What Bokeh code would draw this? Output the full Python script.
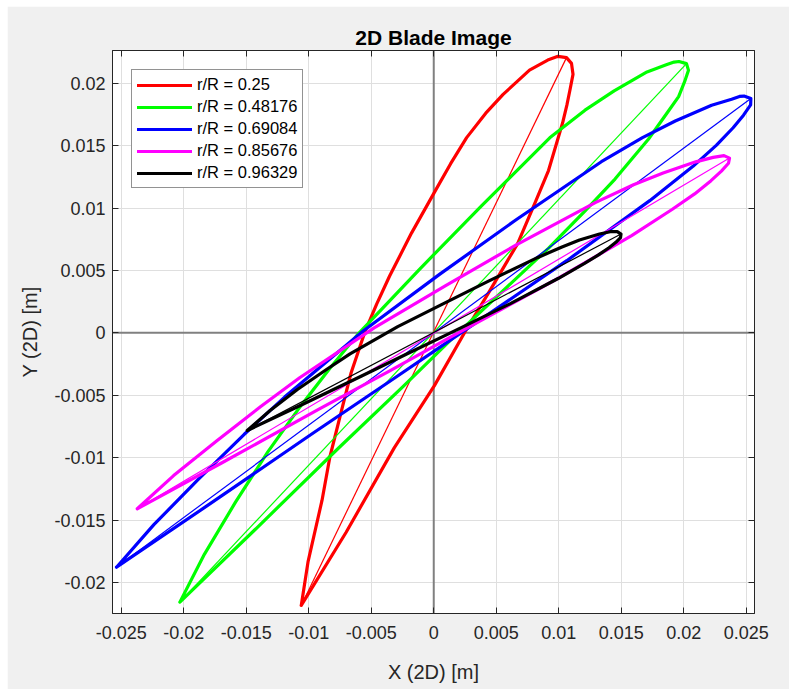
from bokeh.plotting import figure
from bokeh.models import Range1d, FixedTicker, LinearAxis, Span, Legend, LegendItem
from bokeh.embed import file_html
from bokeh.resources import INLINE

# ---------------- data ----------------
labels = ["r/R = 0.25", "r/R = 0.48176", "r/R = 0.69084", "r/R = 0.85676", "r/R = 0.96329"]
colors = ["#ff0000", "#00ff00", "#0000ff", "#ff00ff", "#000000"]

x_ticks = [-0.025, -0.02, -0.015, -0.01, -0.005, 0, 0.005, 0.01, 0.015, 0.02, 0.025]
x_tick_labels = ["-0.025", "-0.02", "-0.015", "-0.01", "-0.005", "0",
                 "0.005", "0.01", "0.015", "0.02", "0.025"]
y_ticks = [-0.02, -0.015, -0.01, -0.005, 0, 0.005, 0.01, 0.015, 0.02]
y_tick_labels = ["-0.02", "-0.015", "-0.01", "-0.005", "0", "0.005", "0.01", "0.015", "0.02"]

# outlines: trailing edge -> upper surface -> leading edge -> lower surface -> trailing edge
red_x = [-0.0106, -0.01005, -0.00894, -0.00831, -0.00734, -0.00661, -0.00551, -0.00456,
         -0.00354, -0.00177, 0.00014, 0.00135, 0.00263, 0.00416, 0.00555, 0.00766, 0.00912,
         0.00994, 0.01062,
         0.01102, 0.01114, 0.0109, 0.01065, 0.0103, 0.00918, 0.00805, 0.00671, 0.00448,
         0.00246, 0.00004, -0.00315, -0.00702, -0.0106]
red_y = [-0.02184, -0.01831, -0.01343, -0.00995, -0.00608, -0.0032, 0.00007, 0.00232,
         0.00453, 0.00801, 0.01141, 0.01355, 0.01564, 0.0176, 0.0191, 0.02105, 0.02185,
         0.02215, 0.02205,
         0.02159, 0.02071, 0.01948, 0.01824, 0.01679, 0.013, 0.01029, 0.00715, 0.00336,
         0.00001, -0.00425, -0.0092, -0.016, -0.02184]

green_x = [-0.02031, -0.01834, -0.01586, -0.01326, -0.01083, -0.00829, -0.00602, -0.00114,
           0.00382, 0.00928, 0.0121, 0.01443, 0.01706, 0.0186, 0.01923, 0.01962, 0.02022,
           0.02038, 0.02006, 0.01959, 0.01855, 0.01717, 0.0145, 0.01207, 0.00917, 0.00182,
           -0.00242, -0.00757, -0.01435, -0.02031]
green_y = [-0.02158, -0.01773, -0.01357, -0.00952, -0.00611, -0.00282, -0.00006, 0.00509,
           0.01018, 0.01562, 0.01784, 0.01938, 0.0209, 0.02147, 0.02169, 0.02174, 0.02157,
           0.02103, 0.0201, 0.01892, 0.01745, 0.01551, 0.01232, 0.00973, 0.00677, -0.00013,
           -0.00428, -0.00919, -0.01582, -0.02158]

blue_x = [-0.02538, -0.02239, -0.01882, -0.01518, -0.01191, -0.00562, 0.00046, 0.00662,
          0.01341, 0.0167, 0.01932, 0.02223, 0.02383, 0.02446, 0.02482, 0.02537,
          0.02535, 0.02478, 0.02395, 0.02262, 0.02074, 0.01728, 0.01064, 0.00177,
          -0.00345, -0.00973, -0.01806, -0.02538]
blue_y = [-0.01878, -0.01537, -0.01173, -0.00815, -0.00513, 0.00017, 0.00468, 0.00908,
          0.01371, 0.01564, 0.01697, 0.01824, 0.01872, 0.01894, 0.01897, 0.01877,
          0.01826, 0.01744, 0.01643, 0.01504, 0.01334, 0.01059, 0.00578, -0.00029,
          -0.00384, -0.00809, -0.01381, -0.01878]

magenta_x = [-0.02372, -0.02081, -0.01735, -0.01384, -0.01073, -0.00477, 0.00092, 0.00664,
             0.01296, 0.01598, 0.01835, 0.02096, 0.02235, 0.02322, 0.02366,
             0.02358, 0.02301, 0.02218, 0.02087, 0.01906, 0.01583, 0.00963, 0.00141,
             -0.00341, -0.00922, -0.01694, -0.02372]
magenta_y = [-0.0141, -0.01144, -0.00864, -0.00591, -0.0036, 0.00039, 0.00376, 0.00707,
             0.01045, 0.01186, 0.01281, 0.0137, 0.01406, 0.0142, 0.014,
             0.01359, 0.01296, 0.01219, 0.01113, 0.00988, 0.00778, 0.00419, -0.00031,
             -0.00299, -0.00614, -0.01041, -0.0141]

black_x = [-0.01492, -0.01309, -0.01091, -0.00867, -0.0067, -0.00288, 0.00074, 0.00438,
           0.00833, 0.01021, 0.01166, 0.01326, 0.01412, 0.01468, 0.01498,
           0.01494, 0.01457, 0.01402, 0.01318, 0.01203, 0.00998, 0.00609, 0.00093,
           -0.00212, -0.00577, -0.01064, -0.01492]
black_y = [-0.00783, -0.00622, -0.00454, -0.003, -0.00169, 0.0005, 0.00232, 0.00414,
           0.00604, 0.00685, 0.00743, 0.00792, 0.0081, 0.00811, 0.00791,
           0.00762, 0.00725, 0.00682, 0.00624, 0.00554, 0.00437, 0.00232, -0.00021,
           -0.00168, -0.00346, -0.0058, -0.00783]

# chord lines (trailing edge -> leading edge)
chord_x0 = [-0.0106, -0.02031, -0.02538, -0.02372, -0.01492]
chord_y0 = [-0.02184, -0.02158, -0.01878, -0.0141, -0.00783]
chord_x1 = [0.01062, 0.02022, 0.02537, 0.02366, 0.01498]
chord_y1 = [0.02205, 0.02157, 0.01877, 0.014, 0.00791]

outlines_x = [red_x, green_x, blue_x, magenta_x, black_x]
outlines_y = [red_y, green_y, blue_y, magenta_y, black_y]

# ---------------- figure ----------------
FONT = "Liberation Sans"
AX = "#262626"

p = figure(width=782, height=683, output_backend="svg", toolbar_location=None,
           x_range=Range1d(-0.0257, 0.02566), y_range=Range1d(-0.02249, 0.02262),
           min_border_left=105, min_border_right=35, min_border_top=44, min_border_bottom=76,
           border_fill_color="#f0f0f0", background_fill_color="white",
           outline_line_color=AX, outline_line_width=1,
           x_axis_label="X (2D) [m]", y_axis_label="Y (2D) [m]", title="2D Blade Image")
p.margin = (6, 0, 0, 7)

p.title.text_font = FONT
p.title.text_font_size = "21px"
p.title.text_font_style = "bold"
p.title.text_color = "black"
p.title.align = "center"
p.title.standoff = 4

xt = FixedTicker(ticks=x_ticks)
yt = FixedTicker(ticks=y_ticks)

xa = p.xaxis[0]
ya = p.yaxis[0]
xa.ticker = xt
ya.ticker = yt
xa.major_label_overrides = {v: s for v, s in zip(x_ticks, x_tick_labels)}
ya.major_label_overrides = {v: s for v, s in zip(y_ticks, y_tick_labels)}
p.xgrid.ticker = xt
p.ygrid.ticker = yt

for ax in (xa, ya):
    ax.major_tick_in = 6
    ax.major_tick_out = 0
    ax.minor_tick_line_color = None
    ax.axis_line_color = AX
    ax.major_tick_line_color = AX
    ax.major_label_text_font = FONT
    ax.major_label_text_font_size = "18px"
    ax.major_label_text_color = AX
    ax.axis_label_text_font = FONT
    ax.axis_label_text_font_size = "20px"
    ax.axis_label_text_font_style = "normal"
    ax.axis_label_text_color = AX
xa.major_label_standoff = 12
xa.axis_label_standoff = 19
ya.major_label_standoff = 7
ya.axis_label_standoff = 10

for loc, tk, vals in (("above", xt, x_ticks), ("right", yt, y_ticks)):
    extra = LinearAxis(ticker=tk, major_tick_in=6, major_tick_out=0,
                       minor_tick_line_color=None, axis_line_color=AX,
                       major_tick_line_color=AX, major_label_standoff=0,
                       major_label_text_font_size="1px",
                       major_label_overrides={v: "" for v in vals})
    p.add_layout(extra, loc)

p.xgrid.grid_line_color = "#dfdfdf"
p.ygrid.grid_line_color = "#dfdfdf"
p.xgrid.grid_line_width = 1
p.ygrid.grid_line_width = 1

p.add_layout(Span(location=0, dimension="height", line_color="#808080",
                  line_width=2, level="underlay"))
p.add_layout(Span(location=0, dimension="width", line_color="#808080",
                  line_width=2, level="underlay"))

items = []
for i in range(len(labels)):
    r = p.line(outlines_x[i], outlines_y[i], line_color=colors[i], line_width=3.2,
               line_join="round", line_cap="round")
    p.line([chord_x0[i], chord_x1[i]], [chord_y0[i], chord_y1[i]],
           line_color=colors[i], line_width=1.2)
    items.append(LegendItem(label=labels[i], renderers=[r]))

legend = Legend(items=items, location="top_left", margin=19, padding=5, spacing=3,
                glyph_width=55, glyph_height=18, label_height=18, label_standoff=5,
                label_text_font=FONT, label_text_font_size="16.5px",
                label_text_color="black", border_line_color=AX, border_line_width=1,
                background_fill_color="white", background_fill_alpha=1.0)
p.add_layout(legend)

open("out.html", "w").write(file_html(p, INLINE))
